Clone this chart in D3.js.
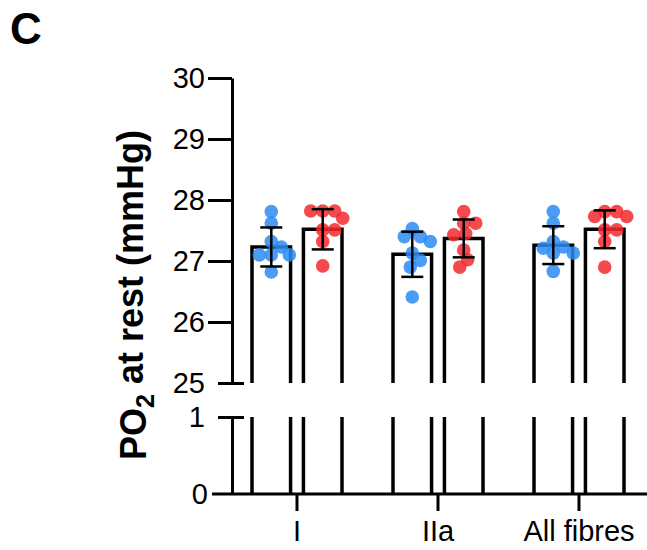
<!DOCTYPE html>
<html>
<head>
<meta charset="utf-8">
<script src="https://cdn.jsdelivr.net/npm/d3@7"></script>
<style>
  body { margin: 0; background: #fff; }
  svg { display: block; font-family: "Liberation Sans", Arial, sans-serif; }
</style>
</head>
<body>
<div id="chart"></div>
<script>
// data
const categories = ['I', 'IIa', 'All fibres'];
const groups = ['blue', 'red'];

const bluePoints = [
  [27.81, 27.62, 27.32, 27.23, 27.10, 27.10, 27.10, 26.82],
  [27.53, 27.40, 27.40, 27.32, 27.13, 27.01, 26.90, 26.41],
  [27.81, 27.62, 27.32, 27.23, 27.21, 27.13, 27.13, 26.83]
];
const redPoints = [
  [27.82, 27.82, 27.82, 27.70, 27.51, 27.51, 27.32, 26.92],
  [27.81, 27.62, 27.62, 27.45, 27.43, 27.18, 27.02, 26.90],
  [27.81, 27.81, 27.73, 27.73, 27.51, 27.51, 27.32, 26.90]
];
const blueMean = [27.23, 27.11, 27.26];
const redMean = [27.52, 27.37, 27.52];
const blueSD = [0.32, 0.37, 0.31];
const redSD = [0.33, 0.31, 0.31];

const yTicksTop = [25, 26, 27, 28, 29, 30];
const yTicksBottom = [0, 1];

const colors = { blue: '#2a8bf2', red: '#f22a2e' };

const width = 647, height = 550;
const axisX = 232;

const svg = d3.select('#chart')
  .append('svg')
  .attr('width', width)
  .attr('height', height);

const x = d3.scaleBand().domain(categories).range([226.5, 649.5]);
const xSub = d3.scaleBand().domain(groups).range([-45, 45]).paddingInner(0.25);
const yTop = d3.scaleLinear().domain([25, 30]).range([383, 78]);
const yBot = d3.scaleLinear().domain([0, 1]).range([494, 417]);

// one row per bar
const rows = [];
categories.forEach((c, i) => {
  rows.push({ cat: c, grp: 'blue', mean: blueMean[i], sd: blueSD[i], pts: bluePoints[i] });
  rows.push({ cat: c, grp: 'red', mean: redMean[i], sd: redSD[i], pts: redPoints[i] });
});
const cx = d => x(d.cat) + x.bandwidth() / 2 + xSub(d.grp) + xSub.bandwidth() / 2;

// bars, upper segment (open at the break)
svg.append('g')
  .selectAll('path')
  .data(rows)
  .join('path')
  .attr('d', d => {
    const l = cx(d) - xSub.bandwidth() / 2, r = cx(d) + xSub.bandwidth() / 2;
    return `M${l},${yTop(25)}V${yTop(d.mean)}H${r}V${yTop(25)}`;
  })
  .attr('fill', '#fff')
  .attr('stroke', '#000')
  .attr('stroke-width', 3.5);

// bars, lower segment
const lower = svg.append('g');
rows.forEach(d => {
  [cx(d) - xSub.bandwidth() / 2, cx(d) + xSub.bandwidth() / 2].forEach(px => {
    lower.append('line')
      .attr('x1', px).attr('x2', px)
      .attr('y1', yBot(1)).attr('y2', yBot(0))
      .attr('stroke', '#000')
      .attr('stroke-width', 3.5);
  });
});

// simple beeswarm so the dots sit side by side like the original
const r = 6.8;
function swarm(values, center) {
  const placed = [];
  values.forEach(v => {
    const py = yTop(v);
    let off = 0;
    for (let k = 0; k < 60; k++) {
      const step = Math.ceil(k / 2) * 2 * (k % 2 ? 1 : -1);
      const ok = placed.every(p => Math.hypot(p.x - (center + step), p.y - py) >= 10.5);
      if (ok) { off = step; break; }
    }
    placed.push({ x: center + off, y: py });
  });
  return placed;
}

const dots = svg.append('g');
rows.forEach(d => {
  dots.selectAll(null)
    .data(swarm(d.pts, cx(d)))
    .join('circle')
    .attr('cx', p => p.x)
    .attr('cy', p => p.y)
    .attr('r', r)
    .attr('fill', colors[d.grp])
    .attr('fill-opacity', 0.85);
});

// error bars (mean +/- SD)
const err = svg.append('g').attr('stroke', '#000').attr('stroke-width', 2.5);
rows.forEach(d => {
  const c = cx(d);
  err.append('line').attr('x1', c).attr('x2', c)
    .attr('y1', yTop(d.mean + d.sd)).attr('y2', yTop(d.mean - d.sd));
  [d.mean + d.sd, d.mean - d.sd].forEach(v => {
    err.append('line').attr('x1', c - 11).attr('x2', c + 11)
      .attr('y1', yTop(v)).attr('y2', yTop(v));
  });
});

// x axis
const xAxis = svg.append('g')
  .attr('transform', `translate(0,${yBot(0)})`)
  .call(d3.axisBottom(x).tickSize(17).tickPadding(9));
xAxis.select('.domain').remove();
xAxis.selectAll('line').attr('stroke-width', 3);
xAxis.selectAll('text').attr('font-size', 29).attr('fill', '#000');
svg.append('line')
  .attr('x1', 212).attr('x2', width)
  .attr('y1', yBot(0)).attr('y2', yBot(0))
  .attr('stroke', '#000').attr('stroke-width', 3);

// y axis, upper segment
const yAxisTop = svg.append('g')
  .attr('transform', `translate(${axisX},0)`)
  .call(d3.axisLeft(yTop).tickValues(yTicksTop).tickFormat(d3.format('d'))
    .tickSize(24).tickSizeOuter(0).tickPadding(3));
yAxisTop.select('.domain').attr('stroke-width', 3);
yAxisTop.selectAll('line').attr('stroke-width', 3);
yAxisTop.selectAll('.tick').filter(d => d === 25).select('line').attr('x2', -14).attr('x1', 12);

// y axis, lower segment
const yAxisBot = svg.append('g')
  .attr('transform', `translate(${axisX},0)`)
  .call(d3.axisLeft(yBot).tickValues(yTicksBottom).tickFormat(d3.format('d'))
    .tickSize(24).tickSizeOuter(0).tickPadding(3));
yAxisBot.select('.domain').attr('stroke-width', 3);
yAxisBot.selectAll('line').attr('stroke-width', 3);
yAxisBot.selectAll('.tick').filter(d => d === 1).select('line').attr('x2', -14).attr('x1', 12);
yAxisBot.selectAll('.tick').filter(d => d === 0).select('line').remove();
yAxisBot.selectAll('.tick').filter(d => d === 0).select('text').attr('x', -24);

svg.selectAll('.tick text').attr('font-size', 29).attr('fill', '#000');
svg.selectAll('.tick line').attr('stroke', '#000');
svg.selectAll('.domain').attr('stroke', '#000');

// y title
const title = svg.append('text')
  .attr('transform', 'translate(146,295) rotate(-90)')
  .attr('text-anchor', 'middle')
  .attr('font-size', 36)
  .attr('font-weight', 'bold');
title.append('tspan').text('PO');
title.append('tspan').text('2').attr('font-size', 25).attr('dy', '0.3em');
title.append('tspan').text(' at rest (mmHg)').attr('dy', '-0.3em');

// panel letter
svg.append('text')
  .attr('x', 10).attr('y', 44)
  .attr('font-size', 44)
  .attr('font-weight', 'bold')
  .text('C');
</script>
</body>
</html>
